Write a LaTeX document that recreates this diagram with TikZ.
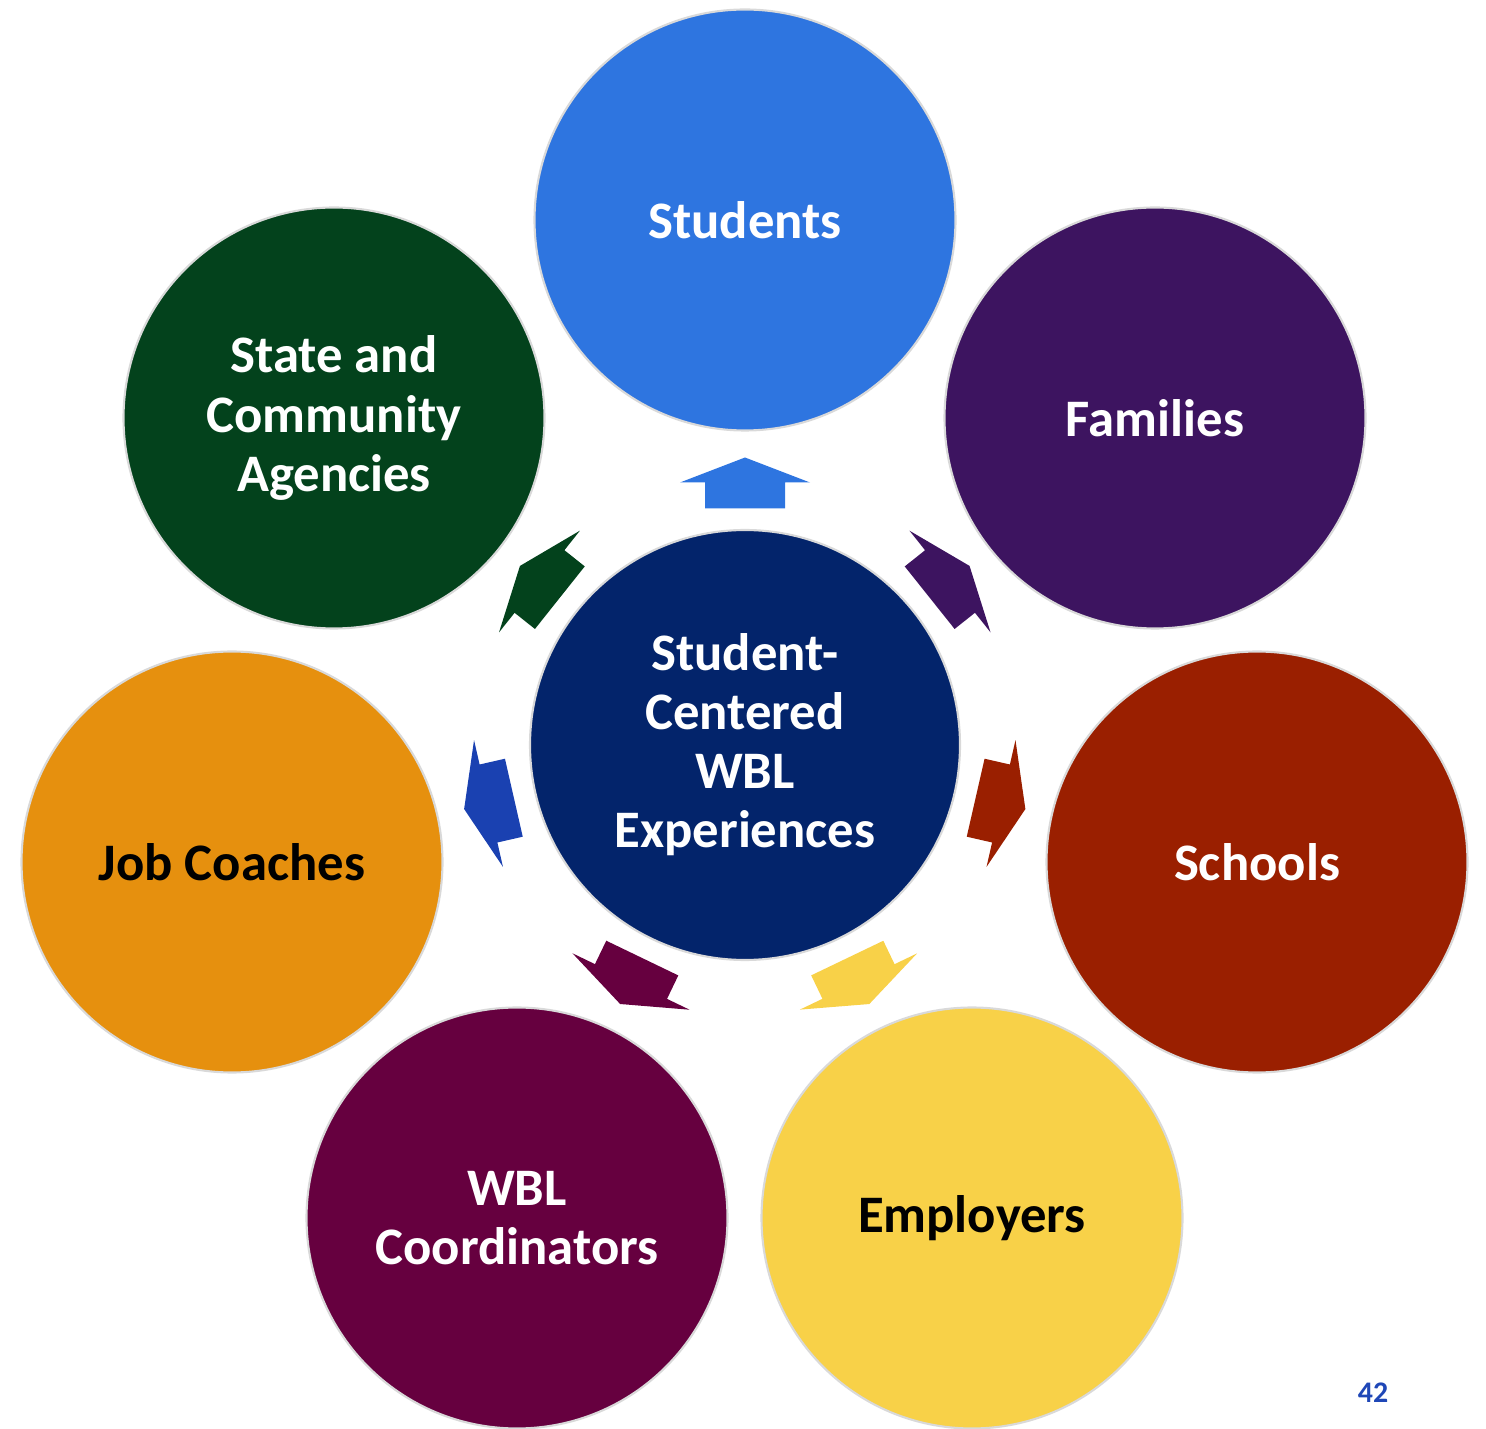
\documentclass[tikz,border=0pt]{standalone}
\usepackage{fontspec}
\setmainfont{Carlito}
\usetikzlibrary{calc}

\definecolor{hubblue}{HTML}{03246B}
\definecolor{stublue}{HTML}{2E75E0}
\definecolor{fampurple}{HTML}{3D1460}
\definecolor{schred}{HTML}{9A1F00}
\definecolor{empyellow}{HTML}{F8D148}
\definecolor{wblplum}{HTML}{66003F}
\definecolor{joborange}{HTML}{E6900E}
\definecolor{agngreen}{HTML}{03421C}
\definecolor{jobarrow}{HTML}{1A41B1}
\definecolor{pageblue}{HTML}{1F47B7}

\tikzset{
  ring/.style={circle, minimum size=4.21cm, inner sep=0pt, draw=black!15, line width=0.6pt,
    align=center, text=white, font=\bfseries\fontsize{15}{16.8}\selectfont},
}

% block arrow halfway between two circles, pointing from the first to the second
\def\spoke[#1](#2)(#3){%
  \pgfmathanglebetweenpoints{\pgfpointanchor{#2}{center}}{\pgfpointanchor{#3}{center}}%
  \let\spokeangle\pgfmathresult
  \begin{scope}[shift={($(#2)!0.5!(#3)$)}, rotate=\spokeangle]
    \fill[#1] (-0.26,-0.40) -- (0,-0.40) -- (0,-0.65) -- (0.25,0) -- (0,0.65) -- (0,0.40) -- (-0.26,0.40) -- cycle;
  \end{scope}}

\begin{document}
\begin{tikzpicture}
			\useasboundingbox (0,0) rectangle (14.86,14.28);
			%%%%% CIRCLES %%%%%
			\node[ring, fill=hubblue, minimum size=4.3cm] (hub) at (7.45, 6.83) {Student-\\Centered\\WBL\\Experiences};
			
			\node[ring, fill=stublue] (stu) at (7.45, 12.08) {Students};
			\node[ring, fill=fampurple] (fam) at (11.55, 10.10) {Families};
			\node[ring, fill=schred] (sch) at (12.57, 5.66) {Schools};
			\node[ring, fill=empyellow, text=black] (emp) at (9.72, 2.10) {Employers};
			\node[ring, fill=wblplum] (wbl) at (5.17, 2.10) {WBL\\Coordinators};
			\node[ring, fill=joborange, text=black] (job) at (2.32, 5.66) {Job Coaches};
			\node[ring, fill=agngreen] (agn) at (3.34, 10.10) {State and\\Community\\Agencies};
			
			%%%%% ARROWS %%%%%
			\spoke[stublue](hub)(stu)
			\spoke[fampurple](hub)(fam)
			\spoke[schred](hub)(sch)
			\spoke[empyellow](hub)(emp)
			\spoke[wblplum](hub)(wbl)
			\spoke[jobarrow](hub)(job)
			\spoke[agngreen](hub)(agn)
			
			\node[text=pageblue, font=\bfseries\fontsize{8.5}{10}\selectfont] (page) at (13.73, 0.35) {42};
			%%%%% END %%%%%
\end{tikzpicture}
\end{document}
